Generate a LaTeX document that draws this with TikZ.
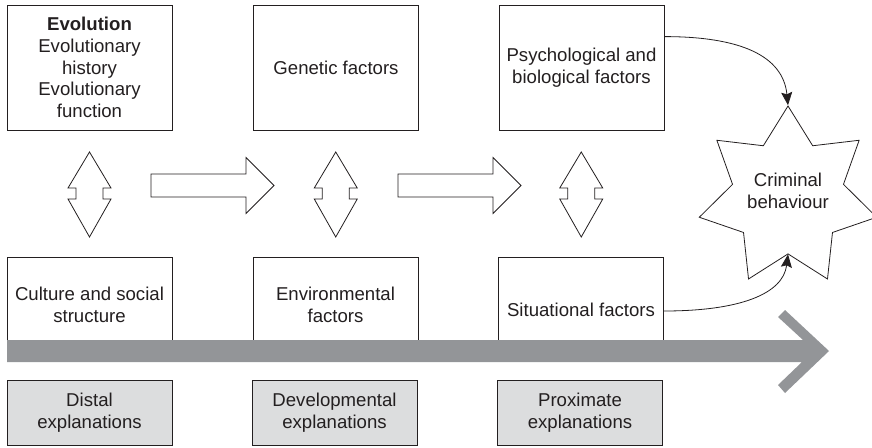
\documentclass[tikz,border=0pt]{standalone}
\usepackage{fontspec}
\setmainfont{Liberation Sans}
\usetikzlibrary{shapes.geometric,arrows.meta,calc}
\definecolor{ink}{HTML}{231F20}
\definecolor{barg}{HTML}{939598}
\definecolor{boxg}{HTML}{DCDDDE}
\begin{document}
\begin{tikzpicture}[x=1pt,y=-1pt,
  txt/.style={font=\fontsize{18.6}{21.7}\selectfont, text=ink, align=center},
  fbox/.style={txt, draw=ink, line width=0.8pt, minimum width=165pt, inner sep=0pt, fill=white},
  topbox/.style={fbox, minimum height=125pt},
  botbox/.style={fbox, minimum height=95pt},
  expbox/.style={fbox, fill=boxg, minimum height=65pt},
  hollow/.style={draw=ink, line width=0.8pt, fill=white, line join=miter},
  conn/.style={draw=ink, line width=0.8pt, -{Stealth[length=13pt,width=11pt,inset=2pt]}},
  dblarrow/.pic={\draw[hollow] (0,-41.5) -- (21.5,-5.5) -- (13.5,-5.5) -- (13.5,5.5) -- (21.5,5.5) -- (0,43.5) -- (-21.5,5.5) -- (-13.5,5.5) -- (-13.5,-5.5) -- (-21.5,-5.5) -- cycle;},
  harrow/.pic={\draw[hollow] (0,-11.5) -- (95,-11.5) -- (95,-28) -- (123,0) -- (95,28) -- (95,11.5) -- (0,11.5) -- cycle;}
]
\useasboundingbox (0,0) rectangle (872,447);

% top row
\node[topbox] (top1) at (89.5,67.5) {\textbf{Evolution}\\Evolutionary\\history\\Evolutionary\\function};
\node[topbox] (top2) at (336,67.5) {Genetic factors};
\node[topbox] (top3) at (581.5,67.5) {Psychological and\\biological factors};

% bottom row
\node[botbox] (bot1) at (89.5,304.5) {Culture and social\\structure};
\node[botbox] (bot2) at (335.5,304.5) {Environmental\\factors};
\node[botbox] (bot3) at (581,304.5) {\rule{0pt}{25pt}Situational factors};

% time bar
\fill[barg] (7,340) -- (803,340) -- (778,317) -- (785,310) -- (829,351) -- (785,393) -- (778,385) -- (802,362) -- (7,362) -- cycle;

% explanation boxes
\node[expbox] (exp1) at (89.5,412.5) {Distal\\explanations};
\node[expbox] (exp2) at (334.5,412.5) {Developmental\\explanations};
\node[expbox] (exp3) at (580,412.5) {Proximate\\explanations};

% hollow arrows
\pic at ($(top1.south)!0.5!(bot1.north)$) {dblarrow};
\pic at ($(top2.south)!0.5!(bot2.north)$) {dblarrow};
\pic at ($(top3.south)!0.5!(bot3.north)$) {dblarrow};
\pic at (151,185.5) {harrow};
\pic at (398,185.5) {harrow};

% star
\node[star, star points=7, star point ratio=1.6, minimum size=182pt, inner sep=0pt, draw=ink, line width=0.8pt] (crime) at (788,197) {};
\node[txt] (crimetext) at (788,191) {Criminal\\behaviour};

% connectors
\draw[conn] ($(top3.north east)+(0,32)$) .. controls +(75,0) and +(-5,-50) .. (crime.outer point 1);
\draw[conn] ($(bot3.east)+(0,6.5)$) .. controls +(75,0) and +(-5,40) .. (crime.inner point 4);
\end{tikzpicture}
\end{document}
